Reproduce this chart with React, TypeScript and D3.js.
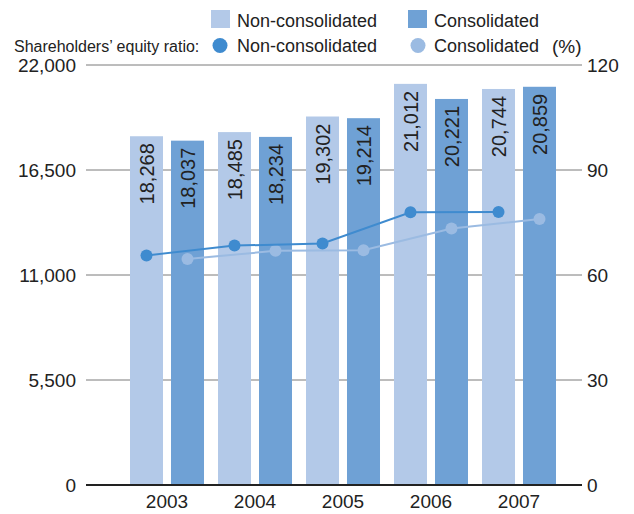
import React, {useEffect, useRef} from 'react';
import * as d3 from 'd3';

const years = ['2003', '2004', '2005', '2006', '2007'];
const nonConsolidated = [18268, 18485, 19302, 21012, 20744];
const consolidated = [18037, 18234, 19214, 20221, 20859];
const ratioNonConsolidated = [65.6, 68.4, 69.0, 77.9, 78.0];
const ratioConsolidated = [64.6, 66.9, 67.1, 73.3, 76.0];
const leftTicks = [0, 5500, 11000, 16500, 22000];
const rightTicks = [0, 30, 60, 90, 120];

const width = 634;
const height = 514;
const font = '"Liberation Sans", Arial, Helvetica, sans-serif';
const lightBar = '#b3c9e8';
const darkBar = '#6fa1d5';
const darkLine = '#3f8bcf';
const lightLine = '#9bbbe2';

const App = () => {
    const svgRef = useRef(null);

    useEffect(() => {
        const svg = d3.select(svgRef.current);
        svg.selectAll('*').remove();
        svg.style('font-family', font);

        // scales
        const x0 = d3.scaleBand().domain(years).range([130, 556]).paddingInner(0.159).paddingOuter(0);
        const x1 = d3.scaleBand().domain(['non', 'con']).range([0, x0.bandwidth()]).paddingInner(0.195);
        const y = d3.scaleLinear().domain([0, 22000]).range([485, 65]);
        const yR = d3.scaleLinear().domain([0, 120]).range([485, 65]);

        // gridlines
        svg.append('g')
            .selectAll('line')
            .data(leftTicks.slice(1))
            .join('line')
            .attr('x1', 86).attr('x2', 582)
            .attr('y1', d => y(d)).attr('y2', d => y(d))
            .attr('stroke', '#7a7a7a').attr('stroke-width', 1);

        // left axis labels
        svg.append('g')
            .selectAll('text')
            .data(leftTicks)
            .join('text')
            .attr('x', 76).attr('y', d => y(d)).attr('dy', '0.36em')
            .attr('text-anchor', 'end').attr('font-size', 19).attr('fill', '#222')
            .text(d => d3.format(',')(d));

        // right axis labels
        svg.append('g')
            .selectAll('text')
            .data(rightTicks)
            .join('text')
            .attr('x', 587).attr('y', d => yR(d)).attr('dy', '0.36em')
            .attr('font-size', 19).attr('fill', '#222')
            .text(d => d);

        // bars
        const rows = years.map((yr, i) => ({yr, non: nonConsolidated[i], con: consolidated[i]}));
        const groups = svg.append('g')
            .selectAll('g')
            .data(rows)
            .join('g')
            .attr('transform', d => `translate(${x0(d.yr)},0)`);
        const bars = groups.selectAll('g')
            .data(d => [{k: 'non', v: d.non}, {k: 'con', v: d.con}])
            .join('g');
        bars.append('rect')
            .attr('x', d => x1(d.k))
            .attr('y', d => y(d.v))
            .attr('width', x1.bandwidth())
            .attr('height', d => y(0) - y(d.v))
            .attr('fill', d => d.k === 'non' ? lightBar : darkBar);
        bars.append('text')
            .attr('transform', d => `translate(${x1(d.k) + x1.bandwidth() / 2},${y(d.v) + 7}) rotate(-90)`)
            .attr('dy', '0.36em')
            .attr('text-anchor', 'end')
            .attr('font-size', 20)
            .attr('fill', '#222')
            .text(d => d3.format(',')(d.v));

        // baseline
        svg.append('line')
            .attr('x1', 86).attr('x2', 582)
            .attr('y1', y(0)).attr('y2', y(0))
            .attr('stroke', '#222').attr('stroke-width', 2);

        // year labels
        svg.append('g')
            .selectAll('text')
            .data(years)
            .join('text')
            .attr('x', d => x0(d) + x0.bandwidth() / 2)
            .attr('y', 508)
            .attr('text-anchor', 'middle').attr('font-size', 19).attr('fill', '#222')
            .text(d => d);

        // ratio lines
        const series = [
            {vals: ratioConsolidated, k: 'con', color: lightLine},
            {vals: ratioNonConsolidated, k: 'non', color: darkLine},
        ];
        series.forEach(s => {
            const px = (i) => x0(years[i]) + x1(s.k) + x1.bandwidth() / 2;
            const line = d3.line().x((d, i) => px(i)).y(d => yR(d));
            svg.append('path')
                .attr('d', line(s.vals))
                .attr('fill', 'none')
                .attr('stroke', s.color)
                .attr('stroke-width', 2);
            svg.append('g')
                .selectAll('circle')
                .data(s.vals)
                .join('circle')
                .attr('cx', (d, i) => px(i))
                .attr('cy', d => yR(d))
                .attr('r', 6)
                .attr('fill', s.color);
        });

        // legend
        const lg = svg.append('g').attr('font-size', 18).attr('fill', '#222');
        lg.append('rect').attr('x', 211).attr('y', 10).attr('width', 19).attr('height', 18).attr('fill', lightBar);
        lg.append('text').attr('x', 237).attr('y', 26.5).text('Non-consolidated');
        lg.append('rect').attr('x', 408).attr('y', 10).attr('width', 19).attr('height', 18).attr('fill', darkBar);
        lg.append('text').attr('x', 434).attr('y', 26.5).text('Consolidated');
        lg.append('text').attr('x', 14).attr('y', 51.5).attr('font-size', 16).text('Shareholders\u2019 equity ratio:');
        lg.append('circle').attr('cx', 220).attr('cy', 45.5).attr('r', 7.5).attr('fill', darkLine);
        lg.append('text').attr('x', 237).attr('y', 51.5).text('Non-consolidated');
        lg.append('circle').attr('cx', 418).attr('cy', 45.5).attr('r', 7.5).attr('fill', lightLine);
        lg.append('text').attr('x', 434).attr('y', 51.5).text('Consolidated');
        lg.append('text').attr('x', 552).attr('y', 53).attr('font-size', 19).text('(%)');
    }, []);

    return (
        <svg ref={svgRef} width={width} height={height}
             style={{position: 'absolute', left: 0, top: 0, background: '#fff'}}>
        </svg>
    );
};

export default App;
